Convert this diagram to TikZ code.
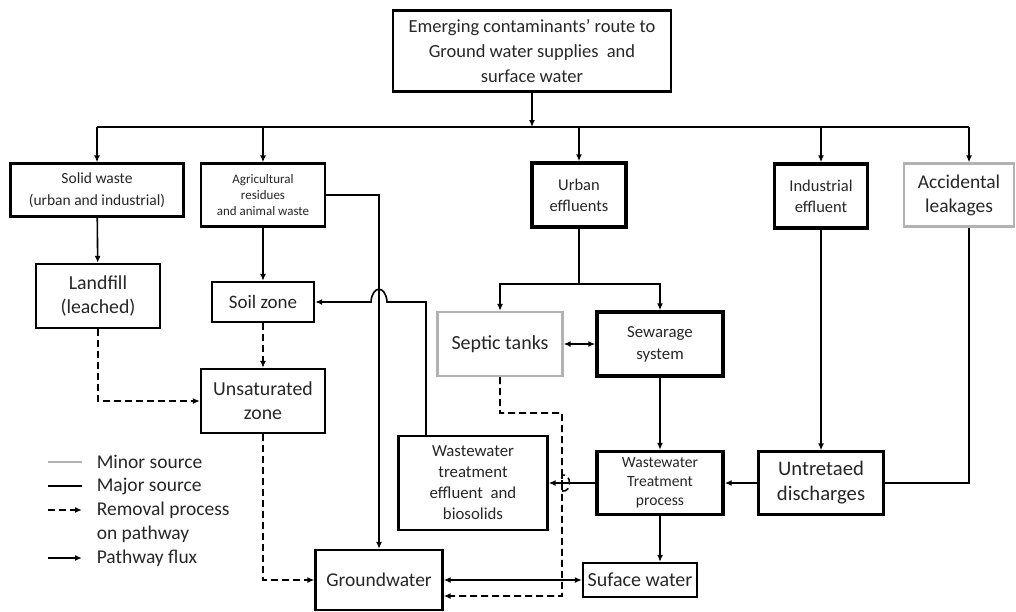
\documentclass[tikz,border=0pt]{standalone}
\usepackage{fontspec}
\setmainfont{Carlito}
\usetikzlibrary{arrows.meta}

\begin{document}
\begin{tikzpicture}[x=1pt, y=-1pt, line width=1.6pt, >={Latex[length=7pt,width=6pt]},
        main/.style = {draw, line width=2.3pt, inner sep=0pt, align=center, text=black!85, font=\fontsize{19.5}{24}\selectfont},
        major/.style = {main, line width=3.4pt},
        minor/.style = {main, draw=black!30},
        removal/.style = {dash pattern=on 7pt off 4pt},
        legend/.style = {anchor=west, align=left, inner sep=0pt, text=black!85, font=\fontsize{19.5}{24}\selectfont}]
        \useasboundingbox (0,0) rectangle (1016,611);

        \node[main, minimum width=278, minimum height=81, font=\fontsize{18.5}{25}\selectfont] (title) at (532,51) {Emerging contaminants' route to\\Ground water supplies\ \ and\\surface water};

        \node[main, minimum width=173, minimum height=53, font=\fontsize{15.5}{22}\selectfont] (solid) at (97,190) {Solid waste\\(urban and industrial)};
        \node[main, minimum width=124, minimum height=63, font=\fontsize{13}{16}\selectfont] (agri) at (263,195) {Agricultural\\residues\\and animal waste};
        \node[major, minimum width=94, minimum height=64, font=\fontsize{16.5}{21}\selectfont] (urban) at (579,195) {Urban\\effluents};
        \node[major, minimum width=93, minimum height=64, font=\fontsize{16.5}{21}\selectfont] (indus) at (821,196) {Industrial\\effluent};
        \node[minor, minimum width=110, minimum height=63] (accid) at (959,195) {Accidental\\leakages};

        \node[main, minimum width=124, minimum height=64, font=\fontsize{19.8}{24}\selectfont] (landfill) at (98,296) {Landfill\\(leached)};
        \node[main, minimum width=102, minimum height=40, font=\fontsize{19}{24}\selectfont] (soil) at (263,302) {Soil zone};
        \node[main, minimum width=124, minimum height=64, font=\fontsize{19.8}{24}\selectfont] (unsat) at (263,401) {Unsaturated\\zone};

        \node[minor, minimum width=125, minimum height=64, font=\fontsize{20}{24}\selectfont] (septic) at (500,344) {Septic tanks};
        \node[major, minimum width=126, minimum height=64, font=\fontsize{16.8}{22}\selectfont] (sewer) at (660,344) {Sewarage\\system};

        \node[main, minimum width=149, minimum height=94, font=\fontsize{16.8}{21}\selectfont] (wwe) at (473,483) {Wastewater\\treatment\\effluent\ \ and\\biosolids};
        \node[major, minimum width=126, minimum height=63, font=\fontsize{15.6}{19}\selectfont] (wtp) at (660,483) {Wastewater\\Treatment\\process};
        \node[main, minimum width=125, minimum height=63, font=\fontsize{20.7}{25}\selectfont] (untr) at (821,483) {Untretaed\\discharges};

        \node[main, minimum width=127, minimum height=60] (ground) at (379,580) {Groundwater};
        \node[main, minimum width=114, minimum height=34, font=\fontsize{20}{24}\selectfont] (suface) at (640,580) {Suface water};

        % legend
        \node[legend] (lminor) at (96,462) {Minor source};
        \node[legend] (lmajor) at (96,486) {Major source};
        \node[legend] (lremov) at (96,522) {Removal process\\on pathway};
        \node[legend] (lflux) at (96,558) {Pathway flux};
        \draw[black!30] ([xshift=-48]lminor.west) -- ([xshift=-14]lminor.west);
        \draw ([xshift=-48]lmajor.west) -- ([xshift=-14]lmajor.west);
        \draw[->, removal] ([xshift=-48,yshift=12]lremov.west) -- ([xshift=-14,yshift=12]lremov.west);
        \draw[->] ([xshift=-48]lflux.west) -- ([xshift=-14]lflux.west);

        % sources
        \coordinate (busL) at (97,127);
        \coordinate (busR) at (969,127);
        \draw (busL) -- (busR);
        \draw[->] (title) -- (title.south |- busL);
        \draw[->] (busL) -- (solid.north);
        \draw[->] (agri.north |- busL) -- (agri.north);
        \draw[->] (urban.north |- busL) -- (urban.north);
        \draw[->] (indus.north |- busL) -- (indus.north);
        \draw[->] (busR) -- (busR |- accid.north);

        % pathways
        \draw[->] (solid) -- (landfill);
        \draw[->] (agri) -- (soil);
        \draw[->, removal] (soil) -- (unsat);
        \draw[->, removal] (landfill.south) |- (unsat.west);
        \draw[->, removal] (unsat.south) |- (ground.west);
        \draw[->] (agri.east) -| (ground.north);
        \draw[->] ([xshift=-47]wwe.north) |- ([xshift=8]ground.north |- soil.east)
            .. controls +(-1,-17) and +(1,-17) .. ([xshift=-8]ground.north |- soil.east) -- (soil.east);

        \draw (urban.south) -- ++(0,55) coordinate (ubr);
        \draw[->] (ubr) -| (septic.north);
        \draw[->] (ubr) -| (sewer.north);
        \draw[<->] (septic) -- (sewer);
        \draw[->] (sewer) -- (wtp);
        \draw[->] (indus) -- (untr);
        \draw (busR |- accid.south) |- (untr.east);
        \draw[->] (untr) -- (wtp);
        \draw[->] (wtp) -- (wwe);
        \draw[->] (wtp.south) -- (wtp.south |- suface.north);
        \draw[<->] (ground) -- (suface);

        \coordinate (dj) at (562,413);
        \draw[->, removal] (septic.south) |- (dj) -- ([yshift=-8]dj |- wtp.west)
            .. controls +(10,2) and +(10,-2) .. ([yshift=8]dj |- wtp.west) |- ([yshift=-16]ground.east);

    \end{tikzpicture}
\end{document}
